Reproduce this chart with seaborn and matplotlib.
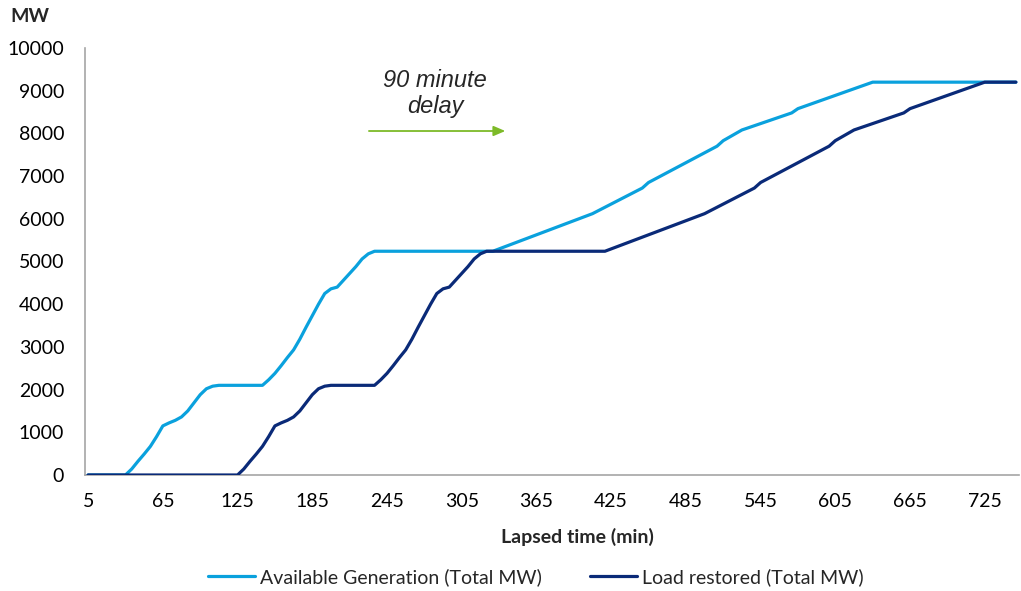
import numpy as np
import pandas as pd
import seaborn as sns
import matplotlib.pyplot as plt
from matplotlib.ticker import FixedLocator

# Available generation (minutes, total MW)
gen_minutes = [5, 35, 40, 45, 50, 55, 60, 65, 70, 75, 80, 85, 90, 95, 100, 105, 110,
               145, 150, 155, 160, 165, 170, 175, 180, 185, 190, 195, 200, 205, 210,
               215, 220, 225, 230, 235, 330, 410, 420, 450, 455, 510, 515, 530, 570,
               575, 635, 750]
gen_mw = [0, 0, 140, 320, 490, 670, 900, 1150, 1220, 1280, 1360, 1500, 1690, 1880, 2020,
          2080, 2100, 2100, 2230, 2380, 2560, 2750, 2930, 3180, 3460, 3730, 4000, 4250,
          4360, 4400, 4560, 4720, 4880, 5060, 5180, 5240, 5240, 6120, 6270, 6720, 6850,
          7700, 7830, 8080, 8480, 8580, 9200, 9200]

# Load restored (minutes, total MW)
load_minutes = [5, 125, 130, 135, 140, 145, 150, 155, 160, 165, 170, 175, 180, 185, 190,
                195, 200, 235, 240, 245, 250, 255, 260, 265, 270, 275, 280, 285, 290,
                295, 300, 305, 310, 315, 320, 325, 420, 500, 510, 540, 545, 600, 605,
                620, 660, 665, 725, 750]
load_mw = [0, 0, 140, 320, 490, 670, 900, 1150, 1220, 1280, 1360, 1500, 1690, 1880, 2020,
           2080, 2100, 2100, 2230, 2380, 2560, 2750, 2930, 3180, 3460, 3730, 4000, 4250,
           4360, 4400, 4560, 4720, 4880, 5060, 5180, 5240, 5240, 6120, 6270, 6720, 6850,
           7700, 7830, 8080, 8480, 8580, 9200, 9200]

series_names = ["Available Generation (Total MW)", "Load restored (Total MW)"]
series_colors = ["#0AA1DD", "#0A2A78"]

x_tick_labels = [5, 65, 125, 185, 245, 305, 365, 425, 485, 545, 605, 665, 725]
y_ticks = list(range(0, 10001, 1000))

df = pd.concat([
    pd.DataFrame({"minutes": gen_minutes, "mw": gen_mw, "series": series_names[0]}),
    pd.DataFrame({"minutes": load_minutes, "mw": load_mw, "series": series_names[1]}),
], ignore_index=True)

sns.set_style("white")
plt.rcParams["font.family"] = ["Lato", "DejaVu Sans"]

fig = plt.figure(figsize=(10.21, 5.91), dpi=100)
ax = fig.add_axes([85 / 1021, 116 / 591, 934 / 1021, 427 / 591])

sns.lineplot(data=df, x="minutes", y="mw", hue="series", hue_order=series_names,
             palette=dict(zip(series_names, series_colors)), estimator=None,
             sort=False, linewidth=2.3, ax=ax, legend=False, zorder=3)

axis_grey = "#A6A6A6"
fs = 14
ax.set_xlim(2.5, 752.5)
ax.set_ylim(0, 10000)
ax.set_yticks(y_ticks)
ax.set_yticklabels([str(v) for v in y_ticks])
ax.xaxis.set_major_locator(FixedLocator(x_tick_labels))
ax.set_xticklabels([str(v) for v in x_tick_labels])
ax.xaxis.set_minor_locator(FixedLocator([t - 2.5 for t in x_tick_labels]))
ax.tick_params(axis="x", which="major", length=0, pad=13, labelsize=fs, colors="black")
ax.tick_params(axis="x", which="minor", length=6, width=1, color=axis_grey, direction="out")
ax.tick_params(axis="y", which="major", length=6, width=1, color=axis_grey,
               direction="out", pad=9, labelsize=fs, labelcolor="black")

for side in ("top", "right"):
    ax.spines[side].set_visible(False)
for side in ("left", "bottom"):
    ax.spines[side].set_color(axis_grey)
    ax.spines[side].set_linewidth(1.2)
ax.set_xlabel("")
ax.set_ylabel("")

# Axis titles
fig.text(10 / 1021, 1 - 16 / 591, "MW", fontsize=fs, fontweight="bold", va="center", ha="left")
fig.text(577 / 1021, 1 - 537 / 591, "Lapsed time (min)", fontsize=fs, fontweight="bold",
         va="center", ha="center")

# Delay annotation
ax.annotate("", xy=(340, 8056), xytext=(230.5, 8056),
            arrowprops=dict(arrowstyle="-|>,head_length=0.7,head_width=0.3",
                            color="#7DBA28", lw=1.3, shrinkA=0, shrinkB=0))
ax.text(283.7, 8934, "90 minute\ndelay", ha="center", va="center", fontsize=17,
        style="italic", family="Liberation Sans", linespacing=1.2)

# Legend
handles = [plt.Line2D([], [], color=c, linewidth=2.3) for c in series_colors]
fig.legend(handles, series_names, loc="center", bbox_to_anchor=(536 / 1021, 1 - 577 / 591),
           ncol=2, frameon=False, fontsize=fs, handlelength=2.4, handletextpad=0.25,
           columnspacing=2.5)

fig.savefig("out.png", dpi=100)
